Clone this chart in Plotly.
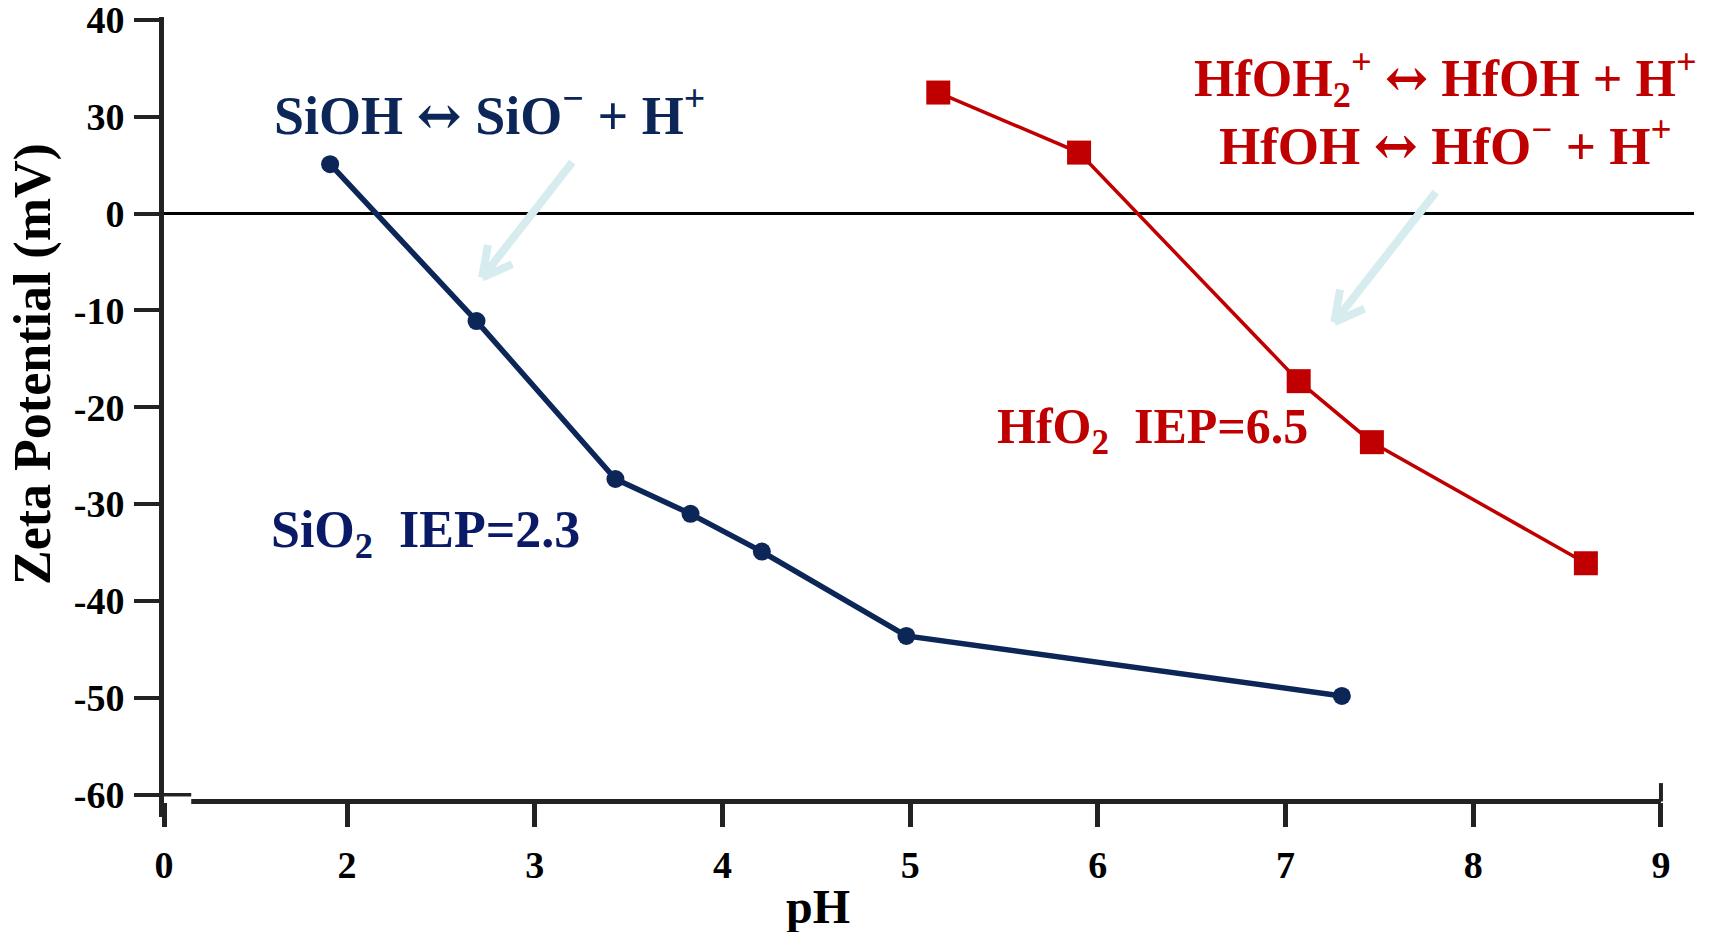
import math
import plotly.graph_objects as go

# ---------------- data ----------------
si_ph = [1.91, 2.69, 3.43, 3.83, 4.21, 4.98, 7.30]
si_zeta = [5.1, -11.1, -27.4, -31.0, -34.9, -43.6, -49.8]

hf_ph = [5.15, 5.90, 7.07, 7.46, 8.60]
hf_zeta = [12.5, 6.3, -17.3, -23.6, -36.1]

y_tickvals = [20, 10, 0, -10, -20, -30, -40, -50, -60]
y_ticktext = ["40", "30", "0", "-10", "-20", "-30", "-40", "-50", "-60"]
x_tickvals = [1.025, 2, 3, 4, 5, 6, 7, 8, 9]
x_ticktext = ["0", "2", "3", "4", "5", "6", "7", "8", "9"]

# ---------------- layout geometry ----------------
W, H = 1716, 932
ML, MR, MT, MB = 164, 22, 17, 115
XR = [1.025, 9.176]
YR = [-62.3, 20.3]
X_AXIS_Y = -60.7          # value where the (broken) x axis is drawn

PW, PH = W - ML - MR, H - MT - MB
px_per_x = PW / (XR[1] - XR[0])
px_per_y = PH / (YR[1] - YR[0])

NAVY = "#0c2658"
NAVY_TXT = "#0a1a66"
RED = "#c00000"
AXC = "#222222"
ARROW = "#d6ecee"
SERIF = "Liberation Serif, Times New Roman, serif"
ARR = "<span style='font-family:DejaVu Serif'>\u2194</span>"

fig = go.Figure()

fig.add_trace(go.Scatter(
    x=si_ph, y=si_zeta, mode="lines+markers",
    line=dict(color=NAVY, width=5.5),
    marker=dict(symbol="circle", size=18, color=NAVY),
    showlegend=False, hoverinfo="skip"))

fig.add_trace(go.Scatter(
    x=hf_ph, y=hf_zeta, mode="lines+markers",
    line=dict(color=RED, width=3.5),
    marker=dict(symbol="square", size=24, color=RED),
    showlegend=False, hoverinfo="skip"))

shapes = []
# x axis line (broken start)
shapes.append(dict(type="line", xref="x", yref="y", x0=1.17, x1=9.0,
                   y0=X_AXIS_Y, y1=X_AXIS_Y, line=dict(color=AXC, width=5)))
# small stub at -60 level from y axis to axis break
shapes.append(dict(type="line", xref="x", yref="y", x0=XR[0], x1=1.17,
                   y0=-60.0, y1=-60.0, line=dict(color=AXC, width=3.5)))
# tall tick at 9 (upper part)
shapes.append(dict(type="line", xref="x", yref="y", x0=9.0, x1=9.0,
                   y0=X_AXIS_Y, y1=-58.8, line=dict(color=AXC, width=4)))


def arrow(start, tip, arm_px=33, ang_deg=28):
    """open-chevron arrow; start/tip in data coordinates"""
    sx, sy = start
    tx, ty = tip
    dxp = (sx - tx) * px_per_x
    dyp = (sy - ty) * px_per_y
    L = math.hypot(dxp, dyp)
    ux, uy = dxp / L, dyp / L
    out = [dict(type="line", xref="x", yref="y", x0=sx, y0=sy, x1=tx, y1=ty,
                line=dict(color=ARROW, width=8))]
    for s in (1, -1):
        a = math.radians(ang_deg) * s
        rx = ux * math.cos(a) - uy * math.sin(a)
        ry = ux * math.sin(a) + uy * math.cos(a)
        ex = tx + rx * arm_px / px_per_x
        ey = ty + ry * arm_px / px_per_y
        out.append(dict(type="line", xref="x", yref="y", x0=tx, y0=ty, x1=ex, y1=ey,
                        line=dict(color=ARROW, width=8)))
    return out


shapes += arrow((3.20, 5.3), (2.72, -6.6))
shapes += arrow((7.80, 2.2), (7.26, -11.2))


def ann(text, x, y, size, color, xref="x", yref="y", angle=0):
    return dict(text=text, x=x, y=y, xref=xref, yref=yref, showarrow=False,
                xanchor="center", yanchor="middle", textangle=angle,
                font=dict(family=SERIF, size=size, color=color, weight="bold"))


annotations = [
    ann("SiOH " + ARR + " SiO<sup>\u2212</sup> + H<sup>+</sup>", 2.76, 10.5, 54, NAVY),
    ann("SiO<sub>2</sub>\u00a0\u00a0IEP=2.3", 2.42, -33.0, 52, NAVY_TXT),
    ann("HfO<sub>2</sub>\u00a0\u00a0IEP=6.5", 6.29, -22.3, 50, RED),
    ann("HfOH<sub>2</sub><sup>+</sup> " + ARR + " HfOH + H<sup>+</sup>", 7.85, 14.0, 52, RED),
    ann("HfOH " + ARR + " HfO<sup>\u2212</sup> + H<sup>+</sup>", 7.85, 7.3, 53, RED),
    ann("pH", (818 - ML) / PW, -(906 - (H - MB)) / PH, 48, "black",
        xref="paper", yref="paper"),
    ann("Zeta Potential (mV)", -(ML - 33) / PW, (H - MB - 364) / PH, 52, "black",
        xref="paper", yref="paper", angle=-90),
]

fig.update_layout(
    width=W, height=H,
    margin=dict(l=ML, r=MR, t=MT, b=MB, pad=0, autoexpand=False),
    paper_bgcolor="white", plot_bgcolor="white",
    shapes=shapes, annotations=annotations,
    xaxis=dict(range=XR, showgrid=False, zeroline=False, showline=False,
               automargin=False, ticklabeloverflow="allow",
               anchor="free", position=(X_AXIS_Y - YR[0]) / (YR[1] - YR[0]),
               tickmode="array", tickvals=x_tickvals, ticktext=x_ticktext,
               ticks="outside", ticklen=24, tickwidth=5, tickcolor=AXC,
               ticklabelstandoff=6,
               tickfont=dict(family=SERIF, size=38, color="black", weight="bold")),
    yaxis=dict(range=YR, showgrid=False, zeroline=True, zerolinecolor="black",
               zerolinewidth=3, showline=True, linecolor=AXC, linewidth=5,
               automargin=False, ticklabeloverflow="allow",
               tickmode="array", tickvals=y_tickvals, ticktext=y_ticktext,
               ticks="outside", ticklen=25, tickwidth=3.5, tickcolor=AXC,
               ticklabelstandoff=2,
               tickfont=dict(family=SERIF, size=38, color="black", weight="bold")),
)

fig.write_html("out.html")
